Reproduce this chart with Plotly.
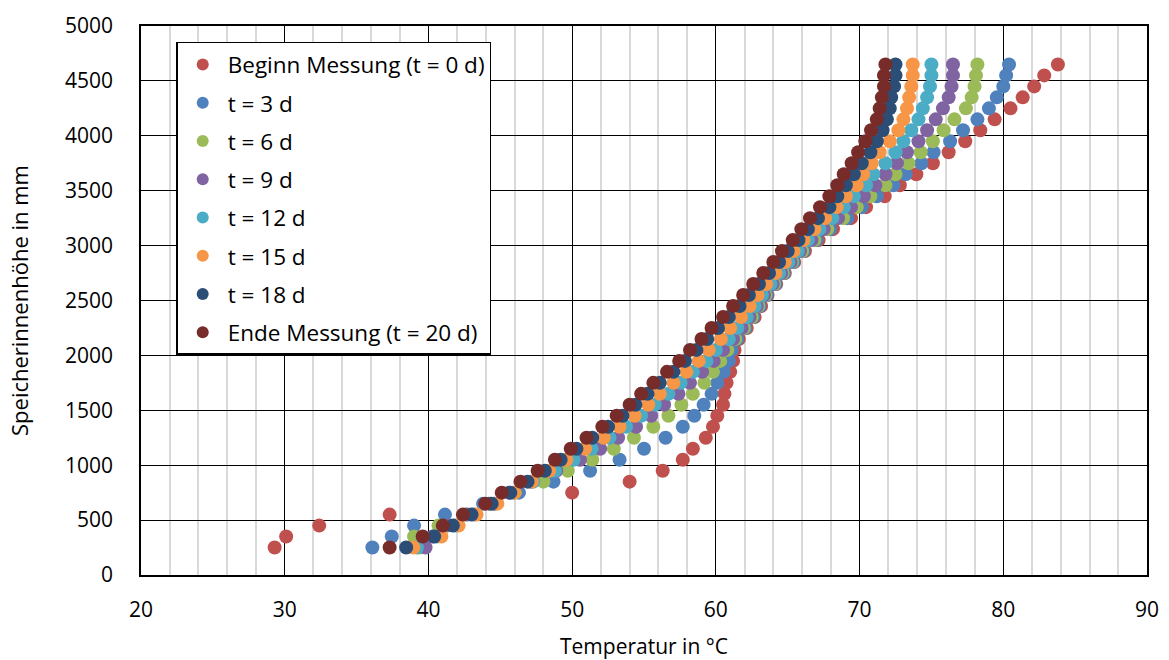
import plotly.graph_objects as go

# Measuring heights inside the storage tank (mm)
hoehe_mm = [250, 350, 450, 550, 650, 750, 850, 950, 1050, 1150, 1250, 1350, 1450,
            1550, 1650, 1750, 1850, 1950, 2050, 2150, 2250, 2350, 2450, 2550, 2650,
            2750, 2850, 2950, 3050, 3150, 3250, 3350, 3450, 3550, 3650, 3750, 3850,
            3950, 4050, 4150, 4250, 4350, 4450, 4550, 4650]

# Temperature profiles (°C) at each height, one list per measuring day
t_0d = [29.3, 30.1, 32.4, 37.3, 44.6, 50.0, 54.0, 56.3, 57.7, 58.4, 59.3, 59.8, 60.1,
        60.5, 60.6, 60.75, 61.0, 61.2, 61.3, 61.6, 62.15, 62.7, 63.15, 63.6, 64.2,
        64.8, 65.45, 66.2, 67.15, 68.15, 69.4, 70.45, 71.75, 72.8, 73.95, 75.1, 76.2,
        77.35, 78.4, 79.4, 80.5, 81.35, 82.15, 82.85, 83.8]
t_3d = [36.1, 37.45, 39.0, 41.15, 43.8, 46.3, 48.7, 51.25, 53.3, 55.0, 56.5, 57.7, 58.5,
        59.15, 59.7, 60.1, 60.55, 60.9, 61.1, 61.5, 62.05, 62.6, 63.05, 63.55, 64.15,
        64.75, 65.4, 66.1, 67.0, 67.95, 69.15, 70.15, 71.2, 72.35, 73.2, 74.3, 75.15,
        76.3, 77.2, 78.2, 79.0, 79.55, 80.0, 80.2, 80.4]
t_6d = [39.4, 39.0, 40.7, 42.6, 44.3, 46.0, 48.0, 49.7, 51.4, 52.9, 54.3, 55.65, 56.7,
        57.6, 58.4, 59.2, 59.8, 60.3, 60.8, 61.35, 61.95, 62.5, 62.95, 63.45, 64.05,
        64.65, 65.3, 66.0, 66.85, 67.75, 68.85, 69.8, 70.75, 71.8, 72.5, 73.4, 74.25,
        75.1, 75.85, 76.6, 77.4, 77.8, 78.0, 78.1, 78.2]
t_9d = [39.8, 40.3, 41.3, 42.7, 44.2, 45.6, 47.1, 48.9, 50.55, 51.95, 53.2, 54.45, 55.5,
        56.4, 57.4, 58.2, 59.05, 59.85, 60.5, 61.2, 61.8, 62.35, 62.85, 63.35, 63.95,
        64.55, 65.2, 65.85, 66.65, 67.5, 68.5, 69.4, 70.3, 71.1, 71.8, 72.6, 73.3,
        74.1, 74.7, 75.3, 75.8, 76.2, 76.4, 76.5, 76.5]
t_12d = [39.2, 40.6, 41.9, 43.2, 44.6, 45.9, 47.3, 48.8, 50.1, 51.35, 52.6, 53.75, 54.8,
         55.75, 56.7, 57.55, 58.4, 59.35, 60.0, 60.9, 61.5, 62.15, 62.7, 63.2, 63.8,
         64.4, 65.05, 65.7, 66.4, 67.2, 68.1, 68.9, 69.6, 70.45, 70.95, 71.8, 72.5,
         73.05, 73.6, 74.1, 74.4, 74.7, 74.9, 75.0, 75.0]
t_15d = [38.95, 40.9, 42.1, 43.35, 44.8, 46.0, 47.2, 48.4, 49.6, 50.9, 52.2, 53.3, 54.35,
         55.3, 56.1, 57.05, 57.95, 58.8, 59.5, 60.35, 61.0, 61.75, 62.35, 62.9, 63.5,
         64.15, 64.8, 65.4, 66.1, 66.85, 67.6, 68.4, 69.05, 69.8, 70.25, 70.85, 71.4,
         72.1, 72.7, 73.05, 73.3, 73.45, 73.6, 73.7, 73.7]
t_18d = [38.45, 40.4, 41.7, 43.0, 44.4, 45.7, 46.9, 48.1, 49.2, 50.3, 51.4, 52.5, 53.5,
         54.4, 55.25, 56.1, 57.05, 57.85, 58.65, 59.4, 60.15, 60.9, 61.65, 62.3, 63.0,
         63.7, 64.4, 65.0, 65.75, 66.4, 67.1, 67.9, 68.45, 69.05, 69.6, 70.15, 70.75,
         71.2, 71.6, 71.9, 72.1, 72.2, 72.4, 72.5, 72.5]
t_20d = [37.3, 39.6, 41.0, 42.4, 43.95, 45.1, 46.4, 47.6, 48.8, 49.9, 51.0, 52.1, 53.1,
         54.0, 54.8, 55.65, 56.6, 57.45, 58.2, 59.0, 59.7, 60.5, 61.2, 61.9, 62.6,
         63.3, 64.0, 64.6, 65.35, 65.95, 66.55, 67.25, 67.9, 68.45, 68.9, 69.45, 69.9,
         70.4, 70.8, 71.2, 71.4, 71.55, 71.7, 71.7, 71.8]

serien_namen = ["Beginn Messung (t = 0 d)", "t = 3 d", "t = 6 d", "t = 9 d",
                "t = 12 d", "t = 15 d", "t = 18 d", "Ende Messung (t = 20 d)"]
serien_werte = [t_0d, t_3d, t_6d, t_9d, t_12d, t_15d, t_18d, t_20d]
farben = ["#C0504D", "#4F81BD", "#9BBB59", "#8064A2",
          "#4BACC6", "#F79646", "#2C4D75", "#772C2A"]

FONT = "Open Sans"

fig = go.Figure()
for name, werte, farbe in zip(serien_namen, serien_werte, farben):
    fig.add_trace(go.Scatter(
        x=werte, y=hoehe_mm, mode="markers", name=name, legendgroup=name,
        marker=dict(size=14, color=farbe, line=dict(width=0)),
    ))

fig.update_layout(
    width=1169, height=660,
    margin=dict(l=141, r=22, t=26, b=85),
    paper_bgcolor="white", plot_bgcolor="white",
    font=dict(family=FONT, size=21, color="black"),
    legend=dict(
        x=0.035, y=0.971, xanchor="left", yanchor="top",
        bgcolor="white", bordercolor="black", borderwidth=1.5,
        font=dict(family=FONT, size=22.5, color="black"),
        tracegroupgap=6, itemsizing="constant", itemwidth=40,
    ),
)

fig.update_xaxes(
    range=[20, 90], dtick=10, tick0=20, automargin=False,
    showgrid=True, gridcolor="black", gridwidth=1.2,
    showline=True, linecolor="black", linewidth=1.5, mirror=True,
    zeroline=False, ticks="", ticklabelstandoff=15,
    tickfont=dict(family=FONT, size=21),
    minor=dict(dtick=2, tick0=20, showgrid=True, gridcolor="#D9D9D9", gridwidth=1.5),
    title=dict(text="Temperatur in °C", font=dict(family=FONT, size=21), standoff=22),
)
fig.update_yaxes(
    range=[0, 5000], dtick=500, tick0=0, automargin=False,
    showgrid=True, gridcolor="black", gridwidth=1.2,
    showline=True, linecolor="black", linewidth=1.5, mirror=True,
    zeroline=False, ticks="", ticklabelstandoff=22,
    tickfont=dict(family=FONT, size=21),
    title=dict(text="Speicherinnenhöhe in mm", font=dict(family=FONT, size=22), standoff=30),
)

fig.write_html("out.html")
